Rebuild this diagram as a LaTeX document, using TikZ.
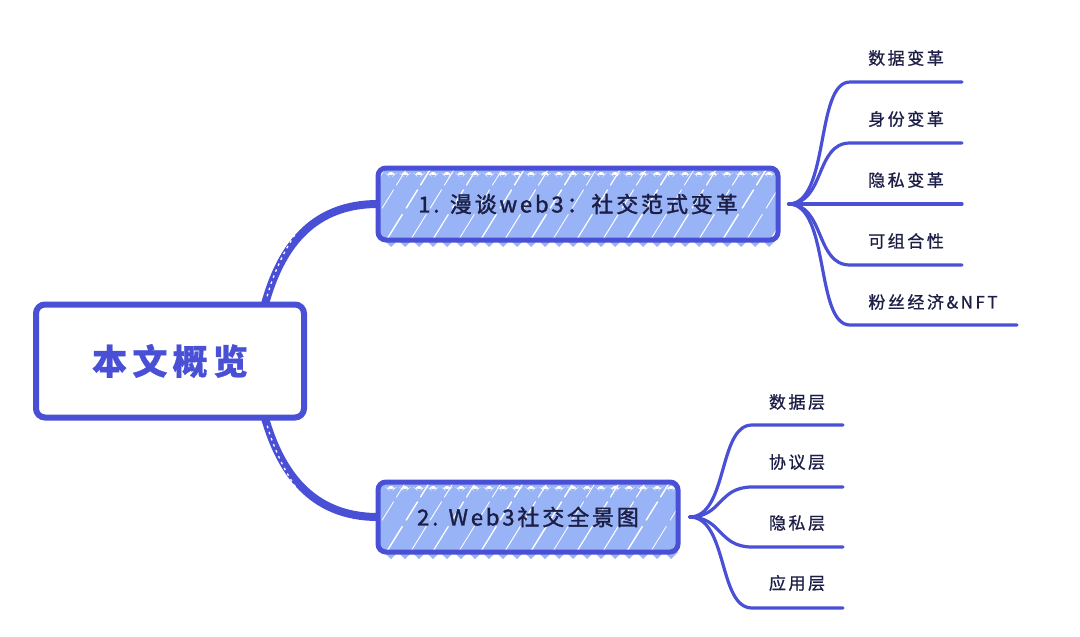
\documentclass[tikz,border=0pt]{standalone}
\usepackage{fontspec}
\setmainfont{Noto Sans CJK SC}
\newfontfamily\cjk[LetterSpace=15, FakeBold=0.8]{Noto Sans CJK SC}
\newfontfamily\cjkm[LetterSpace=13, FakeBold=1.6]{Noto Sans CJK SC}
\usetikzlibrary{calc}
\definecolor{strk}{RGB}{74,80,214}
\definecolor{fillb}{RGB}{152,180,246}
\definecolor{txt}{RGB}{28,30,70}
\begin{document}
\begin{tikzpicture}[x=1pt,y=-1pt,
  conn/.style={draw=strk, line width=8pt, line cap=round},
  ticks/.style={draw=white, line width=1.3pt, dash pattern=on 2.5pt off 4pt},
  br/.style={draw=strk, line width=3.2pt, line cap=round},
  lbl/.style={font=\cjk\fontsize{17}{17}\selectfont, text=txt, inner sep=0pt},
  rootbox/.style={draw=strk, line width=6pt, fill=white, rounded corners=9pt, inner sep=0pt,
    font=\cjk\bfseries\fontsize{35}{35}\selectfont, text=strk},
  hatchbox/.style={draw=strk, line width=5pt, fill=fillb, rounded corners=8pt, inner sep=0pt,
    font=\cjkm\fontsize{22}{22}\selectfont, text=txt,
    path picture={
      \foreach \xx/\ww in {-40/1.2,-18/0.8,6/1.4,30/0.9,52/1.2,78/0.8,100/1.3,124/1.0,150/1.4,172/0.8,196/1.2,222/1.0,246/1.4,270/0.8,292/1.2,318/1.0,342/1.4,366/0.9,390/1.2,414/0.8}
        \draw[white, line width=\ww pt, dash pattern=on 35pt off 7pt on 22pt off 5pt]
          ($(path picture bounding box.south west)+(\xx,4)$) -- ++(52,-84);
      \foreach \i in {0,...,30}
        \fill[white] ($(path picture bounding box.north west)+(6+14*\i,4)$) -- ++(7,6) -- ++(7,-6) -- cycle;
    }}]
\useasboundingbox[fill=white] (0,0) rectangle (1080,637);

% zigzag fill fringes under the boxes
\foreach \i in {0,...,27} \fill[fillb] (384+14*\i,240) -- ++(7,7) -- ++(7,-7) -- cycle;
\foreach \i in {0,...,20} \fill[fillb] (384+14*\i,552) -- ++(7,7) -- ++(7,-7) -- cycle;

% node positions (drawn after connectors below)
\path (170,361) coordinate (rootc) (578,204) coordinate (t1c) (528,517) coordinate (t2c);

% main connectors
\coordinate (r1) at (265,304);
\coordinate (r2) at (265,418);
\coordinate (t1w) at (378,204);
\coordinate (t2w) at (378,517);
\draw[conn] (r1) .. controls (280,250) and (310,204) .. (t1w);
\draw[ticks, shorten <=8pt, shorten >=45pt] (r1) .. controls (280,250) and (310,204) .. (t1w);
\draw[conn] (r2) .. controls (280,470) and (310,517) .. (t2w);
\draw[ticks, shorten <=8pt, shorten >=45pt] (r2) .. controls (280,470) and (310,517) .. (t2w);

% boxes
\node[rootbox, minimum width=268pt, minimum height=113pt] (root) at (rootc) {本文概览};
\node[hatchbox, minimum width=400pt, minimum height=72pt] (t1) at (t1c) {1. 漫谈web3：社交范式变革};
\node[hatchbox, minimum width=300pt, minimum height=70pt] (t2) at (t2c) {2. Web3社交全景图};

% branches of box 1
\coordinate (o1) at ($(t1.east)+(8,0)$);
\node[lbl] (a1) at (906,58) {数据变革};
\node[lbl] (a2) at (906,119) {身份变革};
\node[lbl] (a3) at (906,180) {隐私变革};
\node[lbl] (a4) at (906,241) {可组合性};
\node[lbl] (a5) at (933,302) {粉丝经济\&NFT};
\coordinate (a1s) at (850,82);  \coordinate (a1e) at (962,82);
\coordinate (a2s) at (850,143); \coordinate (a2e) at (962,143);
\coordinate (a3s) at (850,204); \coordinate (a3e) at (962,204);
\coordinate (a4s) at (850,265); \coordinate (a4e) at (962,265);
\coordinate (a5s) at (850,325); \coordinate (a5e) at (1017,325);
\draw[br] (o1) .. controls (830,204) and (815,82) .. (a1s) -- (a1e);
\draw[br] (o1) .. controls (825,204) and (815,143) .. (a2s) -- (a2e);
\draw[br] (o1) -- (a3s) -- (a3e);
\draw[br] (o1) .. controls (825,204) and (815,265) .. (a4s) -- (a4e);
\draw[br] (o1) .. controls (830,204) and (815,325) .. (a5s) -- (a5e);

% branches of box 2
\coordinate (o2) at ($(t2.east)+(9,0)$);
\node[lbl] (b1) at (797,402) {数据层};
\node[lbl] (b2) at (797,462) {协议层};
\node[lbl] (b3) at (797,523) {隐私层};
\node[lbl] (b4) at (797,583) {应用层};
\coordinate (b1s) at (752,425); \coordinate (b1e) at (843,425);
\coordinate (b2s) at (752,487); \coordinate (b2e) at (843,487);
\coordinate (b3s) at (752,547); \coordinate (b3e) at (843,547);
\coordinate (b4s) at (752,608); \coordinate (b4e) at (843,608);
\draw[br] (o2) .. controls (728,517) and (718,425) .. (b1s) -- (b1e);
\draw[br] (o2) .. controls (722,517) and (718,487) .. (b2s) -- (b2e);
\draw[br] (o2) .. controls (722,517) and (718,547) .. (b3s) -- (b3e);
\draw[br] (o2) .. controls (728,517) and (718,608) .. (b4s) -- (b4e);
\end{tikzpicture}
\end{document}
